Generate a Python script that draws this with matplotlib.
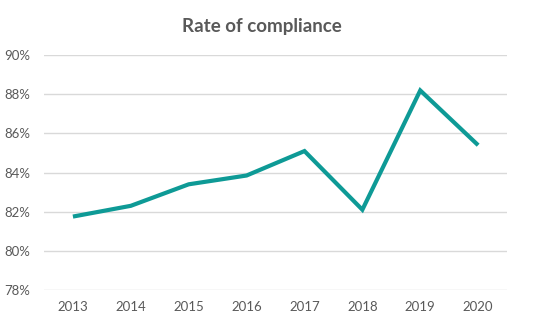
import matplotlib
matplotlib.use("Agg")
import matplotlib.pyplot as plt
from matplotlib.ticker import FuncFormatter

years = ["2013", "2014", "2015", "2016", "2017", "2018", "2019", "2020"]
compliance = [81.75, 82.3, 83.4, 83.85, 85.1, 82.1, 88.2, 85.4]
y_ticks = [78, 80, 82, 84, 86, 88, 90]

plt.rcParams['font.family'] = ['Lato', 'DejaVu Sans']

fig = plt.figure(figsize=(5.41, 3.25), dpi=100)
ax = fig.add_axes([0.0813, 0.108, 0.856, 0.722])

x = list(range(len(years)))
ax.plot(x, compliance, color="#0E9A96", linewidth=3, solid_joinstyle="miter", solid_capstyle="butt")

ax.set_xlim(-0.5, len(years) - 0.5)
ax.set_ylim(78, 90)
ax.set_yticks(y_ticks)
ax.yaxis.set_major_formatter(FuncFormatter(lambda v, p: f"{v:.0f}%"))
ax.set_xticks(x)
ax.set_xticklabels(years)

ax.grid(axis="y", color="#D9D9D9", linewidth=1)
ax.set_axisbelow(True)
for s in ax.spines.values():
    s.set_visible(False)
ax.tick_params(axis="both", length=0, labelsize=9.5, colors="#595959")
ax.tick_params(axis="x", pad=8)
ax.tick_params(axis="y", pad=10)

fig.text(0.484, 0.918, "Rate of compliance", ha="center", va="center",
         fontsize=13.5, fontweight="bold", color="#595959")

fig.savefig("out.png", dpi=100, facecolor="white")
